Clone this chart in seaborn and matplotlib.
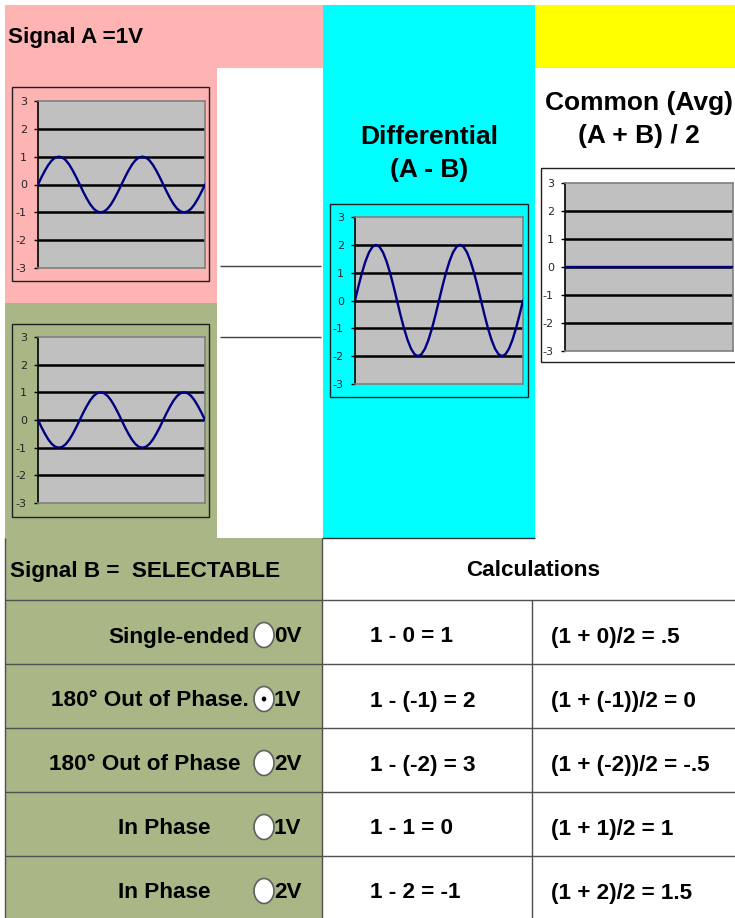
import numpy as np
import matplotlib
matplotlib.use("Agg")
import matplotlib.pyplot as plt
from matplotlib.patches import Rectangle, Ellipse
import seaborn as sns

# -------- data --------
signal_a = [0, .26, .5, .71, .87, .97, 1, .97, .87, .71, .5, .26,
            0, -.26, -.5, -.71, -.87, -.97, -1, -.97, -.87, -.71, -.5, -.26,
            0, .26, .5, .71, .87, .97, 1, .97, .87, .71, .5, .26,
            0, -.26, -.5, -.71, -.87, -.97, -1, -.97, -.87, -.71, -.5, -.26, 0]
signal_b = [0, -.26, -.5, -.71, -.87, -.97, -1, -.97, -.87, -.71, -.5, -.26,
            0, .26, .5, .71, .87, .97, 1, .97, .87, .71, .5, .26,
            0, -.26, -.5, -.71, -.87, -.97, -1, -.97, -.87, -.71, -.5, -.26,
            0, .26, .5, .71, .87, .97, 1, .97, .87, .71, .5, .26, 0]
differential = [0, .52, 1, 1.41, 1.73, 1.93, 2, 1.93, 1.73, 1.41, 1, .52,
                0, -.52, -1, -1.41, -1.73, -1.93, -2, -1.93, -1.73, -1.41, -1, -.52,
                0, .52, 1, 1.41, 1.73, 1.93, 2, 1.93, 1.73, 1.41, 1, .52,
                0, -.52, -1, -1.41, -1.73, -1.93, -2, -1.93, -1.73, -1.41, -1, -.52, 0]
common_avg = [0, 0, 0, 0, 0, 0, 0, 0, 0, 0, 0, 0,
              0, 0, 0, 0, 0, 0, 0, 0, 0, 0, 0, 0,
              0, 0, 0, 0, 0, 0, 0, 0, 0, 0, 0, 0,
              0, 0, 0, 0, 0, 0, 0, 0, 0, 0, 0, 0, 0]
y_ticks = [-3, -2, -1, 0, 1, 2, 3]

option_labels = ["Single-ended", "180° Out of Phase.", "180° Out of Phase", "In Phase", "In Phase"]
option_volts = ["0V", "1V", "2V", "1V", "2V"]
selected = 1
diff_calcs = ["1 - 0 = 1", "1 - (-1) = 2", "1 - (-2) = 3", "1 - 1 = 0", "1 - 2 = -1"]
avg_calcs = ["(1 + 0)/2 = .5", "(1 + (-1))/2 = 0", "(1 + (-2))/2 = -.5", "(1 + 1)/2 = 1", "(1 + 2)/2 = 1.5"]

# -------- layout (pixels) --------
W, H = 735, 918
PINK, OLIVE, CYAN, YELLOW = "#FFB4B4", "#A9B786", "#00FFFF", "#FFFF00"
BORDER = "#505050"
FS = 16.2     # sheet cell font
FS_HEAD = 19  # column headings
label_right = [249, 249, 241, 211, 211]
row_tops = [600, 664, 728, 792, 856]

sns.set_style("white")
plt.rcParams["font.family"] = ["Liberation Sans", "DejaVu Sans"]

fig = plt.figure(figsize=(W / 100, H / 100), dpi=100)
bg = fig.add_axes([0, 0, 1, 1])
bg.set_xlim(0, W)
bg.set_ylim(H, 0)
bg.axis("off")


def box(x0, y0, x1, y1, color):
    bg.add_patch(Rectangle((x0, y0), x1 - x0, y1 - y0, facecolor=color, edgecolor="none", zorder=0))


def line(xs, ys, color=BORDER, lw=1.0):
    bg.plot(xs, ys, color=color, lw=lw, solid_capstyle="butt", zorder=2)


def scope(vals, frame, plot):
    fx0, fy0, fx1, fy1 = frame
    bg.add_patch(Rectangle((fx0, fy0), fx1 - fx0, fy1 - fy0, fill=False,
                           edgecolor="#202020", lw=1.0, zorder=3))
    px0, py0, px1, py1 = plot
    ax = fig.add_axes([px0 / W, 1 - py1 / H, (px1 - px0) / W, (py1 - py0) / H])
    ax.set_facecolor("#C0C0C0")
    for v in y_ticks[1:-1]:
        ax.axhline(v, color="black", lw=1.8, zorder=1)
    sns.lineplot(x=np.arange(len(vals)), y=vals, ax=ax, color="#000080", lw=1.7, zorder=3)
    ax.set_xlim(0, len(vals) - 1)
    ax.set_ylim(-3, 3)
    ax.set_xticks([])
    ax.set_yticks(y_ticks)
    ax.set_yticklabels([str(t) for t in y_ticks], family="DejaVu Sans")
    ax.tick_params(axis="y", left=True, length=3, width=1, pad=5, labelsize=8, color="black")
    ax.set_xlabel("")
    ax.set_ylabel("")
    for s in ["top", "right", "bottom"]:
        ax.spines[s].set_color("#808080")
        ax.spines[s].set_linewidth(1.2)
    ax.spines["left"].set_color("black")
    ax.spines["left"].set_linewidth(1.2)
    return ax


# coloured blocks
box(5, 5, 323, 68, PINK)
box(5, 68, 217, 303, PINK)
box(5, 303, 217, 538, OLIVE)
box(323, 5, 535, 538, CYAN)
box(535, 5, W, 68, YELLOW)
box(5, 538, 322, H, OLIVE)

# connector lines
line([220, 321], [266, 266], "#404040")
line([220, 321], [337, 337], "#404040")

# headings
bold = dict(fontweight="bold", color="black")
bg.text(8, 37, "Signal A =1V", fontsize=FS, ha="left", va="center", **bold)
bg.text(429, 137, "Differential", fontsize=FS_HEAD, ha="center", va="center", **bold)
bg.text(429, 170, "(A - B)", fontsize=FS_HEAD, ha="center", va="center", **bold)
bg.text(639, 103, "Common (Avg)", fontsize=FS_HEAD, ha="center", va="center", **bold)
bg.text(639, 136, "(A + B) / 2", fontsize=FS_HEAD, ha="center", va="center", **bold)

# scopes
scope(signal_a, (12, 87, 209, 281), (38, 101, 205, 268))
scope(signal_b, (12, 324, 209, 517), (38, 337, 205, 503))
scope(differential, (330, 204, 528, 397), (355, 217, 523, 384))
scope(common_avg, (541, 168, 740, 362), (565, 183, 733, 351))

# table grid
line([322, 535], [538, 538], "#303030")
for y in row_tops:
    line([5, W], [y, y])
line([5, 5], [538, H])
line([322, 322], [538, H])
line([532, 532], [600, H])

bg.text(10, 571, "Signal B =  SELECTABLE", fontsize=FS, ha="left", va="center", **bold)
bg.text(533, 571, "Calculations", fontsize=FS, ha="center", va="center", **bold)

for i, top in enumerate(row_tops):
    yc = top + 37
    bg.text(label_right[i], yc, option_labels[i], fontsize=FS, ha="right", va="center", **bold)
    bg.add_patch(Ellipse((264, yc - 2), 20, 25, facecolor="white", edgecolor="#606060", lw=1.2, zorder=3))
    if i == selected:
        bg.add_patch(Ellipse((264, yc - 2), 4.5, 5, facecolor="black", edgecolor="none", zorder=4))
    bg.text(274, yc, option_volts[i], fontsize=FS, ha="left", va="center", zorder=5, **bold)
    bg.text(370, yc, diff_calcs[i], fontsize=FS, ha="left", va="center", **bold)
    bg.text(551, yc, avg_calcs[i], fontsize=FS, ha="left", va="center", **bold)

fig.savefig("out.png", dpi=100)
